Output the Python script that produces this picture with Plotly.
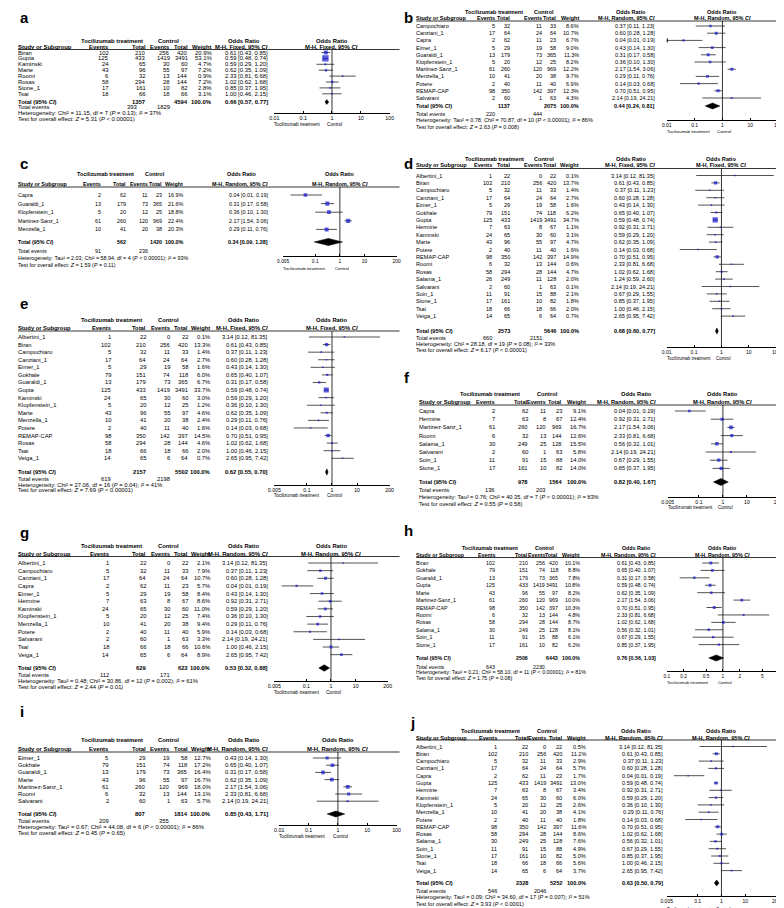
import math
import plotly.graph_objects as go

# ---------------- data ----------------
STUDY = ["Albertini_1", "Biran", "Campochiaro", "Canziani_1", "Capra", "Eimer_1",
         "Gokhale", "Guaraldi_1", "Gupta", "Hermine", "Kaminski", "Klopfenstein_1",
         "Marte", "Martinez-Sanz_1", "Menzella_1", "Potere", "REMAP-CAP", "Roomi",
         "Rosas", "Salama_1", "Salama_1*", "Salvarani", "Soin_1", "Stone_1", "Tsai", "Veiga_1"]
EV_TOC = [1, 102, 5, 17, 2, 5, 79, 13, 125, 7, 24, 5, 43, 61, 10, 2, 98, 6, 58, 30, 26, 2, 11, 17, 18, 14]
N_TOC = [22, 210, 32, 64, 62, 29, 151, 179, 433, 63, 65, 20, 96, 260, 41, 40, 350, 32, 294, 249, 249, 60, 91, 161, 66, 65]
EV_CTL = [0, 256, 11, 24, 11, 19, 74, 73, 1419, 8, 30, 12, 55, 120, 20, 11, 142, 13, 28, 25, 11, 1, 15, 10, 18, 6]
N_CTL = [22, 420, 33, 64, 23, 58, 118, 365, 3491, 67, 60, 25, 97, 969, 38, 40, 397, 144, 144, 128, 128, 63, 88, 82, 66, 64]
OR_EST = [3.14, 0.61, 0.37, 0.60, 0.04, 0.43, 0.65, 0.31, 0.59, 0.92, 0.59, 0.36, 0.62, 2.17, 0.29, 0.14, 0.70, 2.33,
          1.02, 0.56, 1.24, 2.14, 0.67, 0.85, 1.00, 2.65]
OR_LO = [0.12, 0.43, 0.11, 0.28, 0.01, 0.14, 0.40, 0.17, 0.48, 0.31, 0.29, 0.10, 0.35, 1.54, 0.11, 0.03, 0.51, 0.81,
         0.62, 0.32, 0.59, 0.19, 0.29, 0.37, 0.46, 0.95]
OR_HI = [81.35, 0.85, 1.23, 1.28, 0.19, 1.30, 1.07, 0.58, 0.74, 2.71, 1.20, 1.30, 1.09, 3.06, 0.76, 0.68, 0.95, 6.68,
         1.68, 1.01, 2.60, 24.21, 1.55, 1.95, 2.15, 7.42]

PANEL_STUDIES = {
    "a": ["Biran", "Gupta", "Kaminski", "Marte", "Roomi", "Rosas", "Stone_1", "Tsai"],
    "b": ["Campochiaro", "Canziani_1", "Capra", "Eimer_1", "Guaraldi_1", "Klopfenstein_1", "Martinez-Sanz_1",
          "Menzella_1", "Potere", "REMAP-CAP", "Salvarani"],
    "c": ["Capra", "Guaraldi_1", "Klopfenstein_1", "Martinez-Sanz_1", "Menzella_1"],
    "d": ["Albertini_1", "Biran", "Campochiaro", "Canziani_1", "Eimer_1", "Gokhale", "Gupta", "Hermine", "Kaminski",
          "Marte", "Potere", "REMAP-CAP", "Roomi", "Rosas", "Salama_1*", "Salvarani", "Soin_1", "Stone_1", "Tsai",
          "Veiga_1"],
    "e": ["Albertini_1", "Biran", "Campochiaro", "Canziani_1", "Eimer_1", "Gokhale", "Guaraldi_1", "Gupta", "Kaminski",
          "Klopfenstein_1", "Marte", "Menzella_1", "Potere", "REMAP-CAP", "Rosas", "Tsai", "Veiga_1"],
    "f": ["Capra", "Hermine", "Martinez-Sanz_1", "Roomi", "Salama_1", "Salvarani", "Soin_1", "Stone_1"],
    "g": ["Albertini_1", "Campochiaro", "Canziani_1", "Capra", "Eimer_1", "Hermine", "Kaminski", "Klopfenstein_1",
          "Menzella_1", "Potere", "Salvarani", "Tsai", "Veiga_1"],
    "h": ["Biran", "Gokhale", "Guaraldi_1", "Gupta", "Marte", "Martinez-Sanz_1", "REMAP-CAP", "Roomi", "Rosas",
          "Salama_1", "Soin_1", "Stone_1"],
    "i": ["Eimer_1", "Gokhale", "Guaraldi_1", "Marte", "Martinez-Sanz_1", "Roomi", "Salvarani"],
    "j": ["Albertini_1", "Biran", "Campochiaro", "Canziani_1", "Capra", "Gupta", "Hermine", "Kaminski",
          "Klopfenstein_1", "Menzella_1", "Potere", "REMAP-CAP", "Rosas", "Salama_1", "Soin_1", "Stone_1", "Tsai",
          "Veiga_1"],
}
PANEL_WEIGHTS = {
    "a": [20.9, 53.1, 4.7, 7.2, 0.9, 7.2, 2.8, 3.1],
    "b": [8.6, 10.7, 6.7, 9.0, 11.3, 8.2, 12.2, 9.7, 6.9, 12.3, 4.3],
    "c": [16.9, 21.6, 18.8, 22.4, 20.3],
    "d": [0.1, 13.7, 1.4, 2.7, 1.6, 6.2, 34.7, 1.1, 3.1, 4.7, 1.6, 14.9, 0.6, 4.7, 2.0, 0.1, 2.1, 1.8, 2.0, 0.7],
    "e": [0.1, 13.3, 1.4, 2.7, 1.6, 6.0, 6.7, 33.7, 3.0, 1.2, 4.6, 2.4, 1.6, 14.5, 4.6, 2.0, 0.7],
    "f": [9.1, 12.4, 16.7, 12.6, 15.5, 5.8, 14.0, 14.0],
    "g": [2.1, 7.9, 10.7, 5.7, 8.4, 8.6, 11.0, 7.4, 9.4, 5.9, 3.3, 10.6, 8.9],
    "h": [10.1, 8.8, 7.8, 10.8, 8.2, 10.0, 10.3, 4.8, 8.7, 8.1, 6.1, 6.2],
    "i": [12.7, 17.2, 16.4, 16.7, 18.0, 13.1, 5.7],
    "j": [0.5, 11.2, 2.9, 5.7, 1.7, 13.0, 3.4, 6.0, 2.6, 4.1, 1.8, 11.6, 8.6, 7.6, 4.9, 5.0, 5.6, 3.7],
}
MODEL = {"a": "Fixed", "b": "Random", "c": "Random", "d": "Fixed", "e": "Fixed",
         "f": "Random", "g": "Random", "h": "Random", "i": "Random", "j": "Random"}
TOTAL_N = {"a": (1357, 4594), "b": (1137, 2075), "c": (562, 1420), "d": (2573, 5646), "e": (2157, 5502),
           "f": (978, 1564), "g": (629, 622), "h": (2506, 6443), "i": (807, 1814), "j": (2328, 5252)}
TOTAL_EVENTS = {"a": (393, 1829), "b": (220, 444), "c": (91, 236), "d": (660, 2151), "e": (619, 2198),
                "f": (136, 203), "g": (112, 171), "h": (643, 2230), "i": (209, 355), "j": (546, 2046)}
POOLED = {"a": (0.66, 0.57, 0.77), "b": (0.44, 0.24, 0.81), "c": (0.34, 0.09, 1.28), "d": (0.68, 0.60, 0.77),
          "e": (0.62, 0.55, 0.70), "f": (0.82, 0.40, 1.67), "g": (0.53, 0.32, 0.88), "h": (0.76, 0.56, 1.03),
          "i": (0.85, 0.43, 1.71), "j": (0.63, 0.50, 0.79)}
# (Tau², Chi², df, P, I²)
HETEROGENEITY = {"a": (None, "11.15", 7, "= 0.13", 37), "b": ("0.78", "70.87", 10, "< 0.00001", 86),
                 "c": ("2.03", "58.94", 4, "< 0.00001", 93), "d": (None, "28.18", 19, "= 0.08", 33),
                 "e": (None, "27.06", 16, "= 0.04", 41), "f": ("0.76", "40.35", 7, "< 0.00001", 83),
                 "g": ("0.48", "30.86", 12, "= 0.002", 61), "h": ("0.21", "58.10", 11, "< 0.00001", 81),
                 "i": ("0.67", "44.08", 6, "< 0.00001", 86), "j": ("0.09", "34.60", 17, "= 0.007", 51)}
# (Z, P)
OVERALL = {"a": ("5.31", "< 0.00001"), "b": ("2.63", "= 0.008"), "c": ("1.59", "= 0.11"),
           "d": ("6.17", "< 0.00001"), "e": ("7.69", "< 0.00001"), "f": ("0.55", "= 0.58"),
           "g": ("2.44", "= 0.01"), "h": ("1.75", "= 0.08"), "i": ("0.45", "= 0.65"), "j": ("3.93", "< 0.0001")}
TICKS_WIDE = [0.005, 0.1, 1, 10, 200]
TICKS_STD = [0.01, 0.1, 1, 10, 100]
TICKS_NARROW = [0.1, 0.2, 0.5, 1, 2, 5, 10]
AXIS_TICKS = {"a": TICKS_STD, "b": TICKS_STD, "c": TICKS_WIDE, "d": TICKS_STD, "e": TICKS_WIDE,
              "f": TICKS_WIDE, "g": TICKS_WIDE, "h": TICKS_NARROW, "i": TICKS_STD, "j": TICKS_WIDE}

# ---------------- layout geometry (pixels) ----------------
W, H = 784, 908
FONT = "Liberation Sans, Arial, sans-serif"
LEFT = dict(study=3, ev1=95, n1=133, ev2=157, n2=175, wt=199, orr=257, toc_c=98, ctl_c=156, or_c=232, rx1=390)
RIGHT = dict(study=407, ev1=487, n1=520, ev2=539, n2=555, wt=579, orr=650, toc_c=482, ctl_c=540, or_c=630, rx1=784)
GEOM = {
    "a": dict(LEFT, lx=3, ly=9, h1=33, h2=39, rule=41.5, row0=44.5, dy=5.9, tot=94, tev=99.5, het=105, test=110.5,
              axis=105, cap=116.5, fs=5.9, wt=200, tev1=125, fx0=263, fx1=380),
    "b": dict(RIGHT, lx=392, ly=10, h1=4, h2=10, rule=13, row0=18, dy=7.2, tot=98, tev=106, het=112, test=119,
              axis=112, cap=123, fs=5.5, ev1=487, n1=502, ev2=534, n2=549, wt=572, orr=649, toc_c=486, ctl_c=537,
              or_c=625, fx0=661, fx1=774),
    "c": dict(LEFT, lx=3, ly=155, h1=166, h2=176, rule=179, row0=187, dy=8.6, tot=234, tev=243, het=250, test=257,
              axis=248, cap=260, fs=5.4, ev1=87, n1=113, ev2=135, n2=149, wt=170, toc_c=92, ctl_c=142, or_c=230,
              fx0=272, fx1=387),
    "d": dict(RIGHT, lx=392, ly=155, h1=151, h2=157, rule=160.5, row0=167.5, dy=7.4, tot=323, tev=330, het=336,
              test=342, axis=339, cap=350, fs=5.6, ev1=484, n1=502, ev2=534, n2=549, wt=572, orr=649, toc_c=486,
              ctl_c=537, or_c=625, fx0=661, fx1=772),
    "e": dict(LEFT, lx=3, ly=295, h1=312, h2=320, rule=323, row0=329, dy=7.58, tot=464, tev=471, het=476.5,
              test=482, axis=477, cap=488, fs=5.8, ev1=97, wt=198, fx0=263, fx1=380),
    "f": dict(RIGHT, lx=392, ly=370, h1=386, h2=394, rule=397, row0=403, dy=8.2, tot=474, tev=482, het=489,
              test=496, axis=489, cap=500, fs=5.7, study=410, fx0=662, fx1=774),
    "g": dict(LEFT, lx=3, ly=524, h1=538, h2=546, rule=548.5, row0=555, dy=7.64, tot=660, tev=667, het=673,
              test=678.5, axis=673, cap=684, fs=5.8, wt=198, fx0=263, fx1=378),
    "h": dict(RIGHT, lx=392, ly=522, h1=540, h2=547, rule=549.5, row0=555, dy=7.42, tot=650, tev=659, het=664,
              test=669.5, axis=663, cap=674, fs=5.3, ev2=538, n2=551, wt=573, ctl_c=537, fx0=661, fx1=775),
    "i": dict(LEFT, lx=3, ly=703, h1=732, h2=741, rule=744, row0=750, dy=7.2, tot=806, tev=813, het=819, test=825,
              axis=817, cap=828, fs=5.9, fx0=268, fx1=387),
    "j": dict(RIGHT, lx=399, ly=714, h1=723, h2=729.5, rule=732, row0=738.5, dy=7.3, tot=875, tev=882.5, het=889,
              test=895.5, axis=888, cap=901, fs=5.6, ev1=489, orr=657, fx0=661, fx1=772),
}

SQUARE_COLOR = "#1414d2"
LINE_COLOR = "#1a1a1a"


def fmt_tick(v):
    return ("%g" % v)


def ypaper(y_px):
    return 1 - y_px / H


fig = go.Figure()
ann = []
shapes = []
axes = {}


def add_text(x_px, y, text, anchor, yref, size, bold=False):
    if bold:
        text = "<b>" + text + "</b>"
    ann.append(dict(x=x_px / W, xref="paper", y=y, yref=yref, text=text, xanchor=anchor, yanchor="middle",
                    showarrow=False, borderpad=0, borderwidth=0,
                    font=dict(family=FONT, size=size, color="black")))


for k, p in enumerate("abcdefghij"):
    G = GEOM[p]
    n_ax = k + 1
    xn = "x" if n_ax == 1 else "x%d" % n_ax
    yn = "y" if n_ax == 1 else "y%d" % n_ax
    xkey = "xaxis" if n_ax == 1 else "xaxis%d" % n_ax
    ykey = "yaxis" if n_ax == 1 else "yaxis%d" % n_ax
    fs = G["fs"]
    row0, dy = G["row0"], G["dy"]

    def rowval(ypix):
        return (ypix - row0) / dy

    ticks = AXIS_TICKS[p]
    lo_ax, hi_ax = min(ticks), max(ticks)
    y_bot, y_top = rowval(G["axis"]), rowval(G["rule"])
    axes[xkey] = dict(type="log", domain=[G["fx0"] / W, G["fx1"] / W],
                      range=[math.log10(lo_ax), math.log10(hi_ax)], anchor=yn,
                      showline=True, linecolor="black", linewidth=0.8, mirror=False,
                      ticks="inside", ticklen=2.5, tickwidth=0.8, tickcolor="black",
                      tickvals=ticks, ticktext=[fmt_tick(t) for t in ticks],
                      tickfont=dict(family=FONT, size=fs * 0.9, color="black"),
                      showgrid=False, zeroline=False, fixedrange=True)
    axes[ykey] = dict(domain=[ypaper(G["axis"]), ypaper(G["rule"])], range=[y_bot, y_top], anchor=xn,
                      visible=False, fixedrange=True, showgrid=False, zeroline=False)

    studies = PANEL_STUDIES[p]
    weights = PANEL_WEIGHTS[p]
    idx = [STUDY.index(s) for s in studies]
    rows = list(range(len(studies)))

    # line of no effect
    fig.add_trace(go.Scatter(x=[1, 1], y=[y_top, y_bot], mode="lines", xaxis=xn, yaxis=yn,
                             line=dict(color="black", width=0.8), hoverinfo="skip", showlegend=False))
    # confidence intervals
    cx, cy = [], []
    ax_, ay_ = [], []
    for r, i in zip(rows, idx):
        cx += [OR_LO[i], OR_HI[i], None]
        cy += [r, r, None]
        if OR_LO[i] <= lo_ax:
            ax_.append(lo_ax)
            ay_.append(r)
    fig.add_trace(go.Scatter(x=cx, y=cy, mode="lines", xaxis=xn, yaxis=yn,
                             line=dict(color=LINE_COLOR, width=0.75), hoverinfo="skip", showlegend=False))
    if ax_:
        fig.add_trace(go.Scatter(x=ax_, y=ay_, mode="markers", xaxis=xn, yaxis=yn,
                                 marker=dict(symbol="triangle-left", size=4, color="black"),
                                 hoverinfo="skip", showlegend=False))
    # point estimates
    sizes = [max(1.6, 0.88 * math.sqrt(w)) for w in weights]
    fig.add_trace(go.Scatter(x=[OR_EST[i] for i in idx], y=rows, mode="markers", xaxis=xn, yaxis=yn,
                             marker=dict(symbol="square", size=sizes, color=SQUARE_COLOR, line=dict(width=0)),
                             hoverinfo="skip", showlegend=False))
    # pooled diamond
    por, plo, phi = POOLED[p]
    t = rowval(G["tot"])
    hd = 0.42
    fig.add_trace(go.Scatter(x=[plo, por, phi, por, plo], y=[t, t - hd, t, t + hd, t], mode="lines",
                             fill="toself", fillcolor="black", xaxis=xn, yaxis=yn,
                             line=dict(color="black", width=0.5), hoverinfo="skip", showlegend=False))

    # ---- panel letter ----
    ann.append(dict(x=G["lx"] / W, xref="paper", y=ypaper(G["ly"]), yref="paper", text="<b>%s</b>" % p,
                    xanchor="left", yanchor="middle", showarrow=False,
                    font=dict(family=FONT, size=15, color="black")))

    # ---- headers ----
    yh1, yh2 = ypaper(G["h1"]), ypaper(G["h2"])
    fc = (G["fx0"] + G["fx1"]) / 2
    add_text(G["toc_c"], yh1, "Tocilizumab treatment", "center", "paper", fs, bold=True)
    add_text(G["ctl_c"], yh1, "Control", "center", "paper", fs, bold=True)
    add_text(G["or_c"], yh1, "Odds Ratio", "center", "paper", fs, bold=True)
    add_text(fc, yh1, "Odds Ratio", "center", "paper", fs, bold=True)
    add_text(G["study"], yh2, "Study or Subgroup", "left", "paper", fs, bold=True)
    add_text(G["ev1"], yh2, "Events", "right", "paper", fs, bold=True)
    add_text(G["n1"], yh2, "Total", "right", "paper", fs, bold=True)
    add_text(G["ev2"], yh2, "Events", "right", "paper", fs, bold=True)
    add_text(G["n2"], yh2, "Total", "right", "paper", fs, bold=True)
    add_text(G["wt"], yh2, "Weight", "right", "paper", fs, bold=True)
    mh = "M-H, %s, 95%% <i>CI</i>" % MODEL[p]
    add_text(G["orr"], yh2, mh, "right", "paper", fs, bold=True)
    add_text(fc, yh2, mh, "center", "paper", fs, bold=True)
    shapes.append(dict(type="line", xref="paper", yref="paper", x0=G["study"] / W, x1=G["rx1"] / W,
                       y0=ypaper(G["rule"]), y1=ypaper(G["rule"]), line=dict(color="black", width=0.8)))

    # ---- study rows ----
    for r, i, w in zip(rows, idx, weights):
        add_text(G["study"], r, STUDY[i].rstrip("*"), "left", yn, fs)
        add_text(G["ev1"], r, str(EV_TOC[i]), "right", yn, fs)
        add_text(G["n1"], r, str(N_TOC[i]), "right", yn, fs)
        add_text(G["ev2"], r, str(EV_CTL[i]), "right", yn, fs)
        add_text(G["n2"], r, str(N_CTL[i]), "right", yn, fs)
        add_text(G["wt"], r, "%.1f%%" % w, "right", yn, fs)
        add_text(G["orr"], r, "%.2f [%.2f, %.2f]" % (OR_EST[i], OR_LO[i], OR_HI[i]), "right", yn, fs)

    # ---- totals ----
    yt = ypaper(G["tot"])
    add_text(G["study"], yt, "Total (95% <i>CI</i>)", "left", "paper", fs, bold=True)
    add_text(G["n1"], yt, str(TOTAL_N[p][0]), "right", "paper", fs, bold=True)
    add_text(G["n2"], yt, str(TOTAL_N[p][1]), "right", "paper", fs, bold=True)
    add_text(G["wt"], yt, "100.0%", "right", "paper", fs, bold=True)
    add_text(G["orr"], yt, "%.2f [%.2f, %.2f]" % (por, plo, phi), "right", "paper", fs, bold=True)
    ye = ypaper(G["tev"])
    add_text(G["study"], ye, "Total events", "left", "paper", fs)
    add_text(G.get("tev1", G["ev1"]), ye, str(TOTAL_EVENTS[p][0]), "right", "paper", fs)
    add_text(G["ev2"], ye, str(TOTAL_EVENTS[p][1]), "right", "paper", fs)
    tau, chi, df, pv, i2 = HETEROGENEITY[p]
    het = "Heterogeneity: "
    if tau is not None:
        het += "Tau² = %s; " % tau
    het += "Chi² = %s, df = %d (<i>P</i> %s); <i>I</i>² = %d%%" % (chi, df, pv.replace("<", "&lt;"), i2)
    add_text(G["study"], ypaper(G["het"]), het, "left", "paper", fs)
    z, pz = OVERALL[p]
    add_text(G["study"], ypaper(G["test"]),
             "Test for overall effect: <i>Z</i> = %s (<i>P</i> %s)" % (z, pz.replace("<", "&lt;")),
             "left", "paper", fs)

    # ---- favours caption ----
    cfs = fs * 0.8
    ann.append(dict(x=math.log10(lo_ax), xref=xn, y=ypaper(G["cap"]), yref="paper",
                    text="Tocilizumab treatment", xanchor="left", yanchor="middle", showarrow=False,
                    borderpad=0, borderwidth=0, font=dict(family=FONT, size=cfs, color="black")))
    ann.append(dict(x=0, xref=xn, xshift=-5, y=ypaper(G["cap"]), yref="paper",
                    text="Control", xanchor="left", yanchor="middle", showarrow=False,
                    borderpad=0, borderwidth=0, font=dict(family=FONT, size=cfs, color="black")))

fig.update_layout(width=W, height=H, margin=dict(l=0, r=0, t=0, b=0), paper_bgcolor="white",
                  plot_bgcolor="rgba(0,0,0,0)", showlegend=False, annotations=ann, shapes=shapes,
                  font=dict(family=FONT, color="black"), **axes)
fig.write_html("out.html")
